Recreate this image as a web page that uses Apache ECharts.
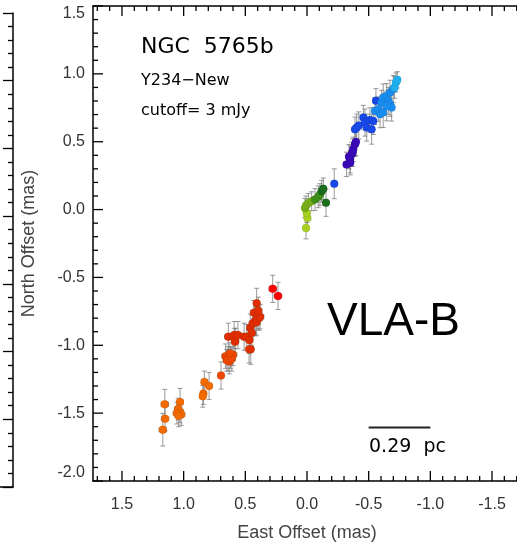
<!DOCTYPE html>
<html>
<head>
<meta charset="utf-8">
<script src="https://cdn.jsdelivr.net/npm/echarts@6/dist/echarts.min.js"></script>
<style>
  html, body { margin: 0; padding: 0; background: #fff; }
  #main { width: 517px; height: 546px; }
</style>
</head>
<body>
<div id="main"></div>
<script>
// tick labels of the east axis (mas)
var xTicks = [1.5, 1.0, 0.5, 0.0, -0.5, -1.0, -1.5];

// spots: [east, north, east error, north error] (mas)
var orangePts = [
  [1.153, -1.435, 0.03, 0.11],
  [1.151, -1.541, 0.03, 0.09],
  [1.169, -1.622, 0.03, 0.12],
  [1.029, -1.418, 0.025, 0.10],
  [1.045, -1.47, 0.03, 0.08],
  [1.03, -1.49, 0.03, 0.08],
  [1.055, -1.50, 0.03, 0.08],
  [1.02, -1.51, 0.03, 0.08],
  [1.04, -1.52, 0.03, 0.08],
  [0.84, -1.356, 0.02, 0.08],
  [0.845, -1.376, 0.02, 0.08],
  [0.832, -1.27, 0.02, 0.08],
  [0.794, -1.30, 0.02, 0.10]
];
var redOrangePts = [
  [0.697, -1.223, 0.02, 0.10],
  [0.66, -1.08, 0.03, 0.09],
  [0.64, -1.10, 0.03, 0.09],
  [0.62, -1.09, 0.03, 0.08],
  [0.63, -1.12, 0.03, 0.09],
  [0.60, -1.07, 0.03, 0.08],
  [0.65, -1.11, 0.03, 0.08],
  [0.61, -1.10, 0.03, 0.09],
  [0.625, -1.06, 0.03, 0.08],
  [0.583, -0.974, 0.02, 0.10],
  [0.47, -1.03, 0.02, 0.10]
];
var darkRedPts = [
  [0.638, -0.937, 0.03, 0.10],
  [0.59, -0.925, 0.03, 0.10],
  [0.583, -0.967, 0.03, 0.09],
  [0.56, -0.925, 0.03, 0.10],
  [0.51, -0.937, 0.03, 0.10],
  [0.489, -0.937, 0.03, 0.09],
  [0.467, -0.961, 0.03, 0.10],
  [0.456, -1.03, 0.02, 0.11],
  [0.46, -0.87, 0.03, 0.10],
  [0.448, -0.91, 0.03, 0.09],
  [0.408, -0.69, 0.02, 0.11],
  [0.43, -0.76, 0.03, 0.09],
  [0.40, -0.78, 0.03, 0.10],
  [0.39, -0.80, 0.03, 0.09],
  [0.42, -0.82, 0.03, 0.10],
  [0.44, -0.84, 0.03, 0.09],
  [0.41, -0.83, 0.03, 0.10],
  [0.38, -0.79, 0.03, 0.09],
  [0.395, -0.745, 0.03, 0.10]
];
var redPts = [
  [0.278, -0.584, 0.03, 0.10],
  [0.235, -0.636, 0.03, 0.10]
];
var yellowGreenPts = [
  [0.008, -0.136, 0.02, 0.08],
  [-0.003, -0.062, 0.02, 0.08],
  [0.002, -0.025, 0.02, 0.07]
];
var lightGreenPts = [
  [0.016, 0.012, 0.02, 0.07],
  [0.008, 0.030, 0.02, 0.07],
  [-0.011, 0.049, 0.02, 0.07],
  [-0.038, 0.061, 0.02, 0.07]
];
var greenPts = [
  [-0.065, 0.074, 0.02, 0.08],
  [-0.092, 0.094, 0.02, 0.08],
  [-0.105, 0.111, 0.02, 0.08]
];
var darkGreenPts = [
  [-0.119, 0.135, 0.02, 0.08],
  [-0.132, 0.153, 0.02, 0.08],
  [-0.154, 0.05, 0.02, 0.10]
];
var indigoPts = [
  [-0.32, 0.333, 0.02, 0.09],
  [-0.35, 0.345, 0.02, 0.09],
  [-0.35, 0.37, 0.02, 0.10],
  [-0.34, 0.39, 0.02, 0.09],
  [-0.362, 0.407, 0.02, 0.09],
  [-0.37, 0.42, 0.02, 0.10],
  [-0.375, 0.444, 0.02, 0.09],
  [-0.389, 0.481, 0.02, 0.09],
  [-0.397, 0.498, 0.02, 0.10]
];
var bluePts = [
  [-0.221, 0.19, 0.02, 0.11],
  [-0.403, 0.604, 0.02, 0.10],
  [-0.389, 0.592, 0.02, 0.09],
  [-0.42, 0.62, 0.02, 0.10],
  [-0.457, 0.678, 0.02, 0.09],
  [-0.47, 0.641, 0.02, 0.10],
  [-0.484, 0.604, 0.02, 0.10],
  [-0.51, 0.66, 0.02, 0.09],
  [-0.524, 0.592, 0.02, 0.11],
  [-0.537, 0.653, 0.02, 0.10],
  [-0.559, 0.801, 0.02, 0.09]
];
var skyPts = [
  [-0.551, 0.727, 0.02, 0.10],
  [-0.578, 0.74, 0.02, 0.09],
  [-0.592, 0.703, 0.02, 0.10],
  [-0.618, 0.715, 0.02, 0.11],
  [-0.605, 0.789, 0.02, 0.09],
  [-0.618, 0.826, 0.02, 0.10],
  [-0.646, 0.838, 0.02, 0.09],
  [-0.659, 0.801, 0.02, 0.10],
  [-0.673, 0.777, 0.02, 0.09],
  [-0.686, 0.752, 0.02, 0.10],
  [-0.646, 0.764, 0.02, 0.11],
  [-0.673, 0.863, 0.02, 0.09],
  [-0.70, 0.888, 0.02, 0.10]
];
var cyanPts = [
  [-0.71, 0.90, 0.02, 0.08],
  [-0.721, 0.937, 0.02, 0.07],
  [-0.732, 0.956, 0.02, 0.06]
];

// 0.29 pc scale bar, in mas
var scaleBar = [[-0.5, -1.605], [-1.0, -1.605]];

var groups = [
  [orangePts, '#f26a00'],
  [redOrangePts, '#ee4800'],
  [darkRedPts, '#e02e00'],
  [redPts, '#ff0000'],
  [yellowGreenPts, '#a8d020'],
  [lightGreenPts, '#78b01a'],
  [greenPts, '#3e9016'],
  [darkGreenPts, '#1b6e1b'],
  [indigoPts, '#3a08b8'],
  [bluePts, '#1848e8'],
  [skyPts, '#1a8ef0'],
  [cyanPts, '#20b0f0']
];

var myChart = echarts.init(document.getElementById('main'));

// tick positions for the main frame: [x, y, kind]
// kind 0 = x major, 1 = x minor, 2 = y major, 3 = y minor
var frameTicks = [];
for (var i = -17; i <= 17; i++) frameTicks.push([i / 10, 0, i % 5 === 0 ? 0 : 1]);
for (var j = -20; j <= 15; j++) frameTicks.push([0, j / 10, j % 5 === 0 ? 2 : 3]);

function axLine() { return { show: true, onZero: false, lineStyle: { color: '#000', width: 1.5 } }; }

var scatterSeries = groups.map(function (g) {
  return {
    type: 'scatter', xAxisIndex: 0, yAxisIndex: 0, z: 3,
    symbolSize: 8,
    itemStyle: { color: g[1], borderColor: 'rgba(0,0,0,0.15)', borderWidth: 0.5, opacity: 1 },
    data: g[0].map(function (p) { return [p[0], p[1]]; })
  };
});

var allPts = [];
groups.forEach(function (g) { allPts = allPts.concat(g[0]); });

var errSeries = {
  type: 'custom', xAxisIndex: 0, yAxisIndex: 0, z: 2,
  encode: { x: 0, y: 1 },
  data: allPts,
  renderItem: function (params, api) {
    var x = api.value(0), y = api.value(1), ex = api.value(2), ey = api.value(3);
    var t = api.coord([x, y + ey]), b = api.coord([x, y - ey]);
    var l = api.coord([x + ex, y]), r = api.coord([x - ex, y]);
    var c = 2.5;
    var st = { stroke: 'rgba(120,120,120,0.75)', lineWidth: 1 };
    function ln(x1, y1, x2, y2) { return { type: 'line', shape: { x1: x1, y1: y1, x2: x2, y2: y2 }, style: st }; }
    return {
      type: 'group',
      children: [
        ln(t[0], t[1], b[0], b[1]),
        ln(t[0] - c, t[1], t[0] + c, t[1]),
        ln(b[0] - c, b[1], b[0] + c, b[1]),
        ln(l[0], l[1], r[0], r[1]),
        ln(l[0], l[1] - c, l[0], l[1] + c),
        ln(r[0], r[1] - c, r[0], r[1] + c)
      ]
    };
  }
};

// frame ticks drawn through the axes' own scales
var tickSeries = {
  type: 'custom', xAxisIndex: 0, yAxisIndex: 0, z: 6, silent: true,
  encode: { x: 0, y: 1 },
  data: frameTicks,
  renderItem: function (params, api) {
    var cs = params.coordSys;
    var k = api.value(2);
    var st = { stroke: '#000', lineWidth: 1.3 };
    var len = (k === 0 || k === 2) ? 10 : 5;
    if (k < 2) {
      var px = api.coord([api.value(0), 0])[0];
      var yb = cs.y + cs.height;
      return { type: 'group', children: [
        { type: 'line', shape: { x1: px, y1: yb, x2: px, y2: yb - len }, style: st },
        { type: 'line', shape: { x1: px, y1: cs.y, x2: px, y2: cs.y + len }, style: st }
      ] };
    }
    var py = api.coord([0, api.value(1)])[1];
    return { type: 'line', shape: { x1: cs.x, y1: py, x2: cs.x + len, y2: py }, style: st };
  }
};

var barSeries = {
  type: 'line', xAxisIndex: 0, yAxisIndex: 0, z: 5, silent: true,
  symbol: 'none', data: scaleBar,
  lineStyle: { color: '#222', width: 2 }
};

function gtext(x, y, txt, font) {
  return { type: 'text', x: x, y: y, z: 10,
    style: { text: txt, font: font, fill: '#000', textAlign: 'left', textVerticalAlign: 'middle' } };
}

option = {
  animation: false,
  grid: [
    { left: 93, top: 6, right: -4, bottom: 65, outerBoundsMode: 'none', containLabel: false },
    { left: -100, top: 13, width: 113, height: 474, outerBoundsMode: 'none', containLabel: false }
  ],
  xAxis: [
    {
      type: 'value', gridIndex: 0, position: 'bottom', inverse: true,
      min: -1.735, max: 1.735,
      axisLine: axLine(),
      axisTick: { show: false },
      axisLabel: { customValues: xTicks, margin: 16, color: '#333', fontSize: 16, fontFamily: 'Liberation Sans',
        formatter: function (v) { return v.toFixed(1); } },
      splitLine: { show: false },
      name: 'East Offset (mas)',
      nameLocation: 'middle',
      nameGap: 43,
      nameTextStyle: { color: '#444', fontSize: 18, fontFamily: 'Liberation Sans' }
    },
    {
      type: 'value', gridIndex: 0, position: 'top', inverse: true,
      min: -1.735, max: 1.735,
      axisLine: axLine(),
      axisTick: { show: false }, axisLabel: { show: false }, splitLine: { show: false }
    },
    {
      type: 'value', gridIndex: 1, min: 0, max: 1, position: 'bottom',
      axisLine: axLine(),
      axisTick: { show: false }, axisLabel: { show: false }, splitLine: { show: false }
    }
  ],
  yAxis: [
    {
      type: 'value', gridIndex: 0, position: 'left',
      min: -2.0, max: 1.5, interval: 0.5,
      axisLine: axLine(),
      axisTick: { show: false },
      axisLabel: {
        margin: 8, color: '#333', fontSize: 16, fontFamily: 'Liberation Sans',
        verticalAlignMinLabel: 'bottom',
        verticalAlignMaxLabel: 'top',
        formatter: function (v) { return v.toFixed(1); }
      },
      splitLine: { show: false },
      name: 'North Offset (mas)',
      nameLocation: 'middle',
      nameGap: 55,
      nameTextStyle: { color: '#444', fontSize: 18, fontFamily: 'Liberation Sans' }
    },
    {
      type: 'value', gridIndex: 1, position: 'right',
      min: 0, max: 7, interval: 1,
      axisLine: axLine(),
      axisTick: { show: true, inside: true, length: 10, lineStyle: { color: '#000', width: 1.3 } },
      minorTick: { show: true, splitNumber: 5, length: 5, lineStyle: { color: '#000', width: 1.3 } },
      axisLabel: { show: false },
      splitLine: { show: false }
    }
  ],
  graphic: [
    gtext(141, 47, 'NGC  5765b', '22px "DejaVu Sans"'),
    gtext(141, 81, 'Y234\u2212New', '16px "DejaVu Sans"'),
    gtext(141, 111, 'cutoff= 3 mJy', '16px "DejaVu Sans"'),
    gtext(327, 322, 'VLA-B', '46px "Liberation Sans"'),
    gtext(369, 447, '0.29  pc', '19px "DejaVu Sans"')
  ],
  series: scatterSeries.concat([errSeries, barSeries, tickSeries])
};

myChart.setOption(option);
</script>
</body>
</html>
